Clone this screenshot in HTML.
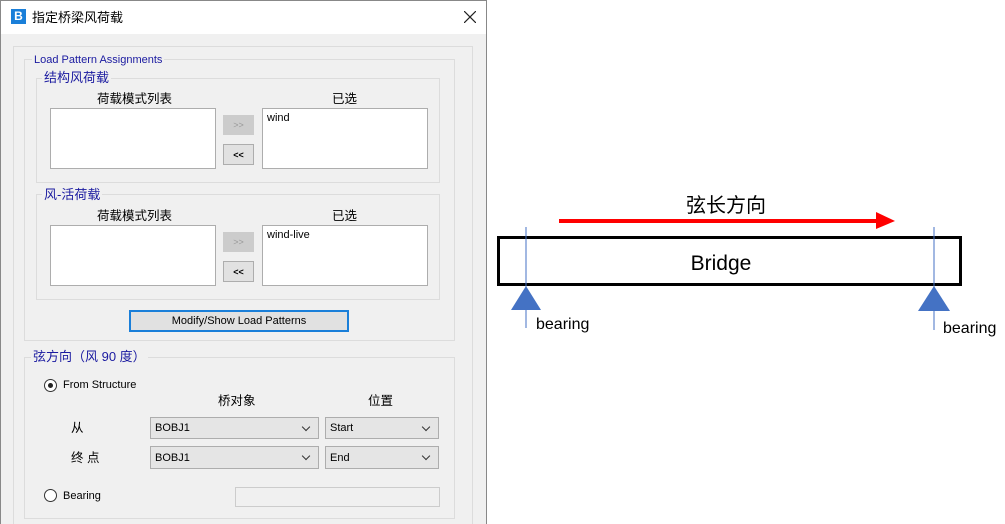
<!DOCTYPE html><html><head><meta charset="utf-8"><style>
html{width:1005px;height:524px;overflow:hidden}
body{margin:0;width:1005px;height:524px;background:#fff;position:relative;overflow:hidden;font-family:"Liberation Sans","Noto Sans CJK SC",sans-serif;}
.a{position:absolute;box-sizing:border-box}
.fs{border:1px solid #dcdcdc}
.lg{position:absolute;background:#f0f0f0;color:#1a1aa0;padding:0 2px;font-size:12px;line-height:14px;white-space:nowrap}
.t{position:absolute;font-size:11px;color:#000;white-space:nowrap;line-height:13px}
.lb{background:#fff;border:1px solid #adadad}
.bt{background:#e1e1e1;border:1px solid #adadad;font-size:9px;display:flex;align-items:center;justify-content:center}
.sel{background:#e5e5e5;border:1px solid #adadad;font-size:11px;display:flex;align-items:center;padding-left:4px}
.sel:after{content:"";position:absolute;right:9px;top:6px;width:5px;height:5px;border-right:1px solid #333;border-bottom:1px solid #333;transform:rotate(45deg)}
.cn{font-size:12.5px}
</style></head><body>
<div class="a" style="left:0;top:0;width:487px;height:524px;border:1px solid #888;border-bottom:none;background:#f0f0f0"></div>
<div class="a" style="left:1px;top:1px;width:485px;height:33px;background:#fff"></div>
<div class="a" style="left:11px;top:9px;width:15px;height:15px;background:#1a7fd9;color:#fff;font-weight:bold;font-size:12px;text-align:center;line-height:15px">B</div>
<div class="t" style="left:32px;top:10px;font-size:13px;line-height:15px">指定桥梁风荷载</div>
<svg class="a" style="left:464px;top:11px" width="12" height="12"><path d="M0,0L12,12M12,0L0,12" stroke="#222" stroke-width="1.2"/></svg>
<div class="a fs" style="left:13px;top:46px;width:460px;height:478px;border-bottom:none"></div>
<div class="a fs" style="left:24px;top:59px;width:431px;height:282px"></div>
<div class="lg" style="left:32px;top:53px;font-size:11px">Load Pattern Assignments</div>
<div class="a fs" style="left:36px;top:78px;width:404px;height:105px"></div>
<div class="lg" style="left:42px;top:71px;font-size:13px">结构风荷载</div>
<div class="t cn" style="left:97px;top:93px">荷载模式列表</div>
<div class="t cn" style="left:332px;top:93px">已选</div>
<div class="a lb" style="left:50px;top:108px;width:166px;height:61px"></div>
<div class="a lb" style="left:262px;top:108px;width:166px;height:61px"><span class="t" style="left:4px;top:3px">wind</span></div>
<div class="a bt" style="left:223px;top:115px;width:31px;height:20px;color:#999;background:#ccc;border-color:#ccc">&gt;&gt;</div>
<div class="a bt" style="left:223px;top:144px;width:31px;height:21px;font-weight:bold">&lt;&lt;</div>
<div class="a fs" style="left:36px;top:194px;width:404px;height:106px"></div>
<div class="lg" style="left:42px;top:188px;font-size:13px">风-活荷载</div>
<div class="t cn" style="left:97px;top:210px">荷载模式列表</div>
<div class="t cn" style="left:332px;top:210px">已选</div>
<div class="a lb" style="left:50px;top:225px;width:166px;height:61px"></div>
<div class="a lb" style="left:262px;top:225px;width:166px;height:61px"><span class="t" style="left:4px;top:3px">wind-live</span></div>
<div class="a bt" style="left:223px;top:232px;width:31px;height:20px;color:#999;background:#ccc;border-color:#ccc">&gt;&gt;</div>
<div class="a bt" style="left:223px;top:261px;width:31px;height:21px;font-weight:bold">&lt;&lt;</div>
<div class="a bt" style="left:129px;top:310px;width:220px;height:22px;border:2px solid #1a7fd9;font-size:11px">Modify/Show Load Patterns</div>
<div class="a fs" style="left:24px;top:357px;width:431px;height:162px"></div>
<div class="lg" style="left:31px;top:349px;font-size:13px;line-height:15px">弦方向（风 90 度）</div>
<div class="a" style="left:44px;top:379px;width:13px;height:13px;border:1px solid #333;border-radius:50%;background:#fff"><div class="a" style="left:3px;top:3px;width:5px;height:5px;border-radius:50%;background:#222"></div></div>
<div class="t" style="left:63px;top:379px">From Structure</div>
<div class="t cn" style="left:218px;top:395px">桥对象</div>
<div class="t cn" style="left:368px;top:395px">位置</div>
<div class="t cn" style="left:71px;top:422px">从</div>
<div class="t cn" style="left:71px;top:452px">终 点</div>
<div class="a sel" style="left:150px;top:417px;width:169px;height:22px">BOBJ1</div>
<div class="a sel" style="left:325px;top:417px;width:114px;height:22px">Start</div>
<div class="a sel" style="left:150px;top:446px;width:169px;height:23px">BOBJ1</div>
<div class="a sel" style="left:325px;top:446px;width:114px;height:23px">End</div>
<div class="a" style="left:44px;top:489px;width:13px;height:13px;border:1px solid #333;border-radius:50%;background:#fff"></div>
<div class="t" style="left:63px;top:490px">Bearing</div>
<div class="a" style="left:235px;top:487px;width:205px;height:20px;border:1px solid #ccc;background:#f0f0f0"></div>
<svg class="a" style="left:0;top:0" width="1005" height="524">
<text x="726" y="212" font-size="20" text-anchor="middle" font-family="Liberation Sans,Noto Sans CJK SC,sans-serif">弦长方向</text>
<line x1="559" y1="221" x2="880" y2="221" stroke="#f00" stroke-width="4"/>
<polygon points="876,212 895,221 876,229" fill="#f00"/>
<rect x="498.5" y="237.5" width="462" height="47" fill="none" stroke="#000" stroke-width="3"/>
<text x="721" y="270" font-size="21" text-anchor="middle" font-family="Liberation Sans,sans-serif">Bridge</text>
<line x1="526" y1="227" x2="526" y2="328" stroke="#4472c4" stroke-width="1"/>
<line x1="934" y1="227" x2="934" y2="330" stroke="#4472c4" stroke-width="1"/>
<polygon points="526,286 511,310 541,310" fill="#4472c4"/>
<polygon points="934,286 918,311 950,311" fill="#4472c4"/>
<text x="536" y="329" font-size="16" font-family="Liberation Sans,sans-serif">bearing</text>
<text x="943" y="333" font-size="16" font-family="Liberation Sans,sans-serif">bearing</text>
</svg>
</body></html>
